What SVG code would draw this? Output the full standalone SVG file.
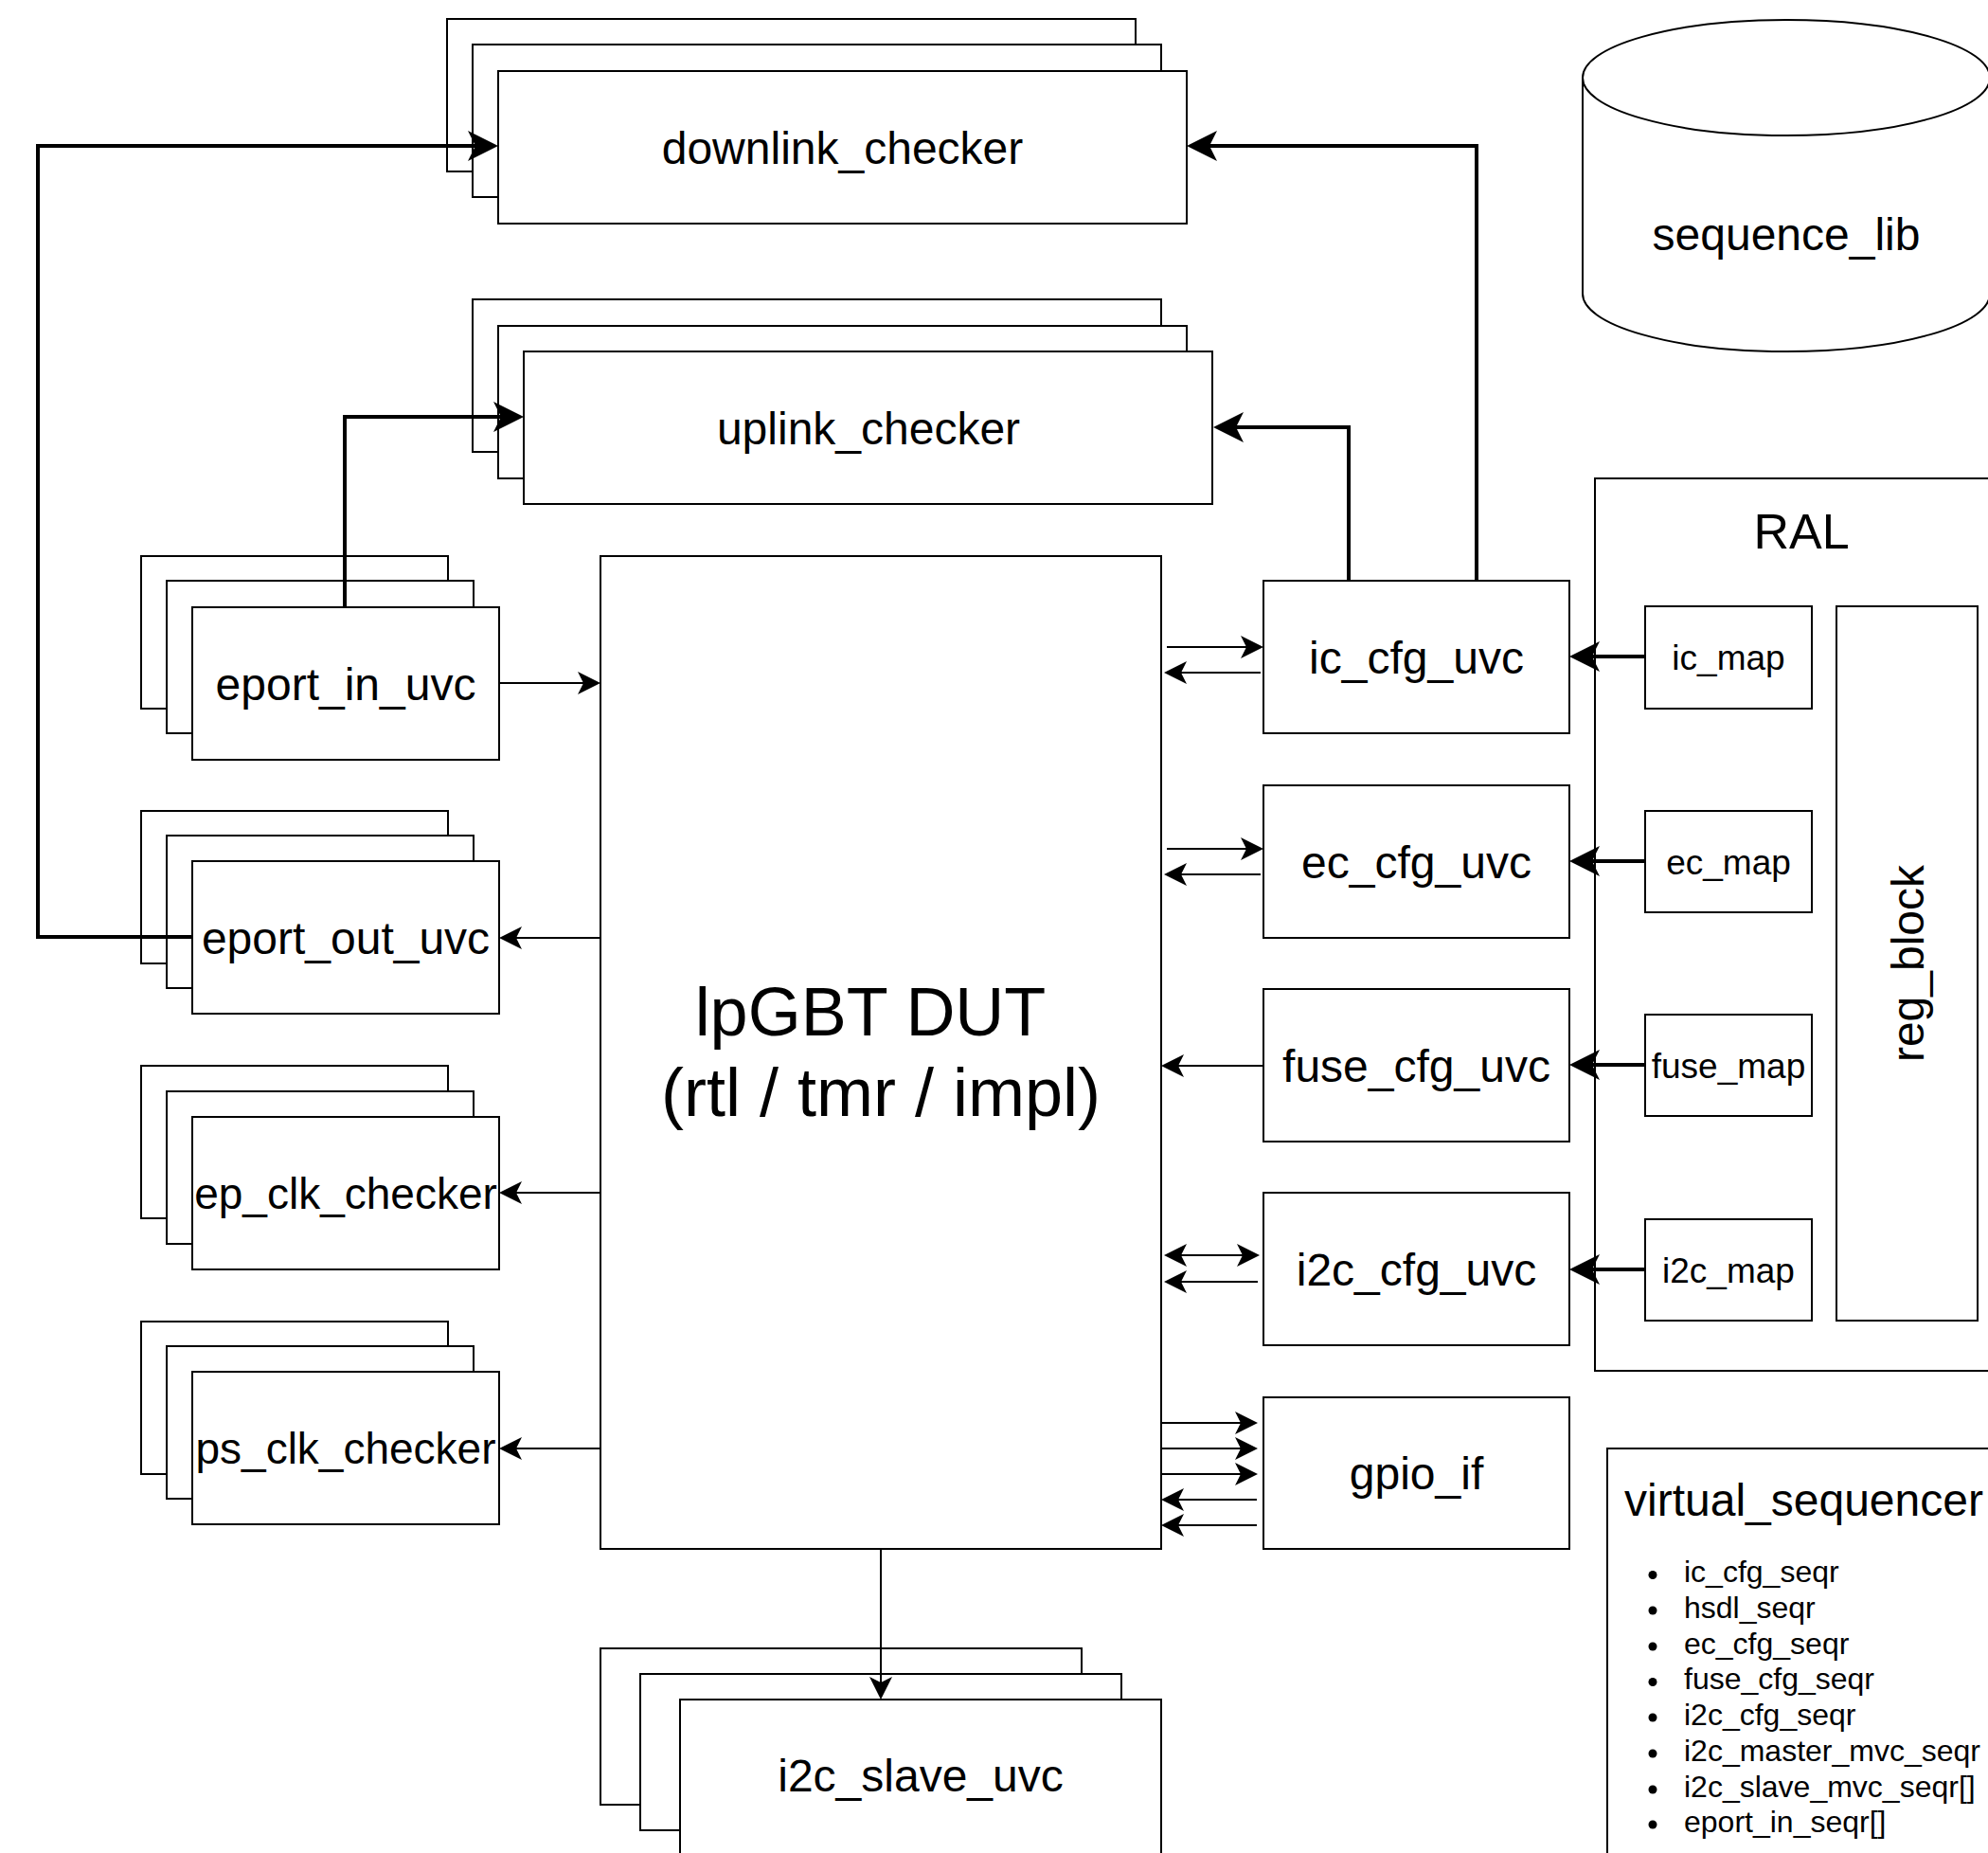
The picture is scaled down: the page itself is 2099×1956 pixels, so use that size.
<svg xmlns="http://www.w3.org/2000/svg" width="2099" height="1956" viewBox="0 0 2099 1956">
<style>
rect, .shape { fill: #fff; stroke: #000; stroke-width: 2; }
text { font-family: "Liberation Sans", Arial, sans-serif; fill: #000; }
.lbl { font-size: 48px; text-anchor: middle; }
.map { font-size: 37px; text-anchor: middle; }
.li { font-size: 32px; }
.thick { fill: none; stroke: #000; stroke-width: 4; marker-end: url(#ah); }
.thin { fill: none; stroke: #000; stroke-width: 2; marker-end: url(#a); }
</style>
<defs>
<marker id="a" markerUnits="userSpaceOnUse" viewBox="0 0 24 24" markerWidth="24" markerHeight="24" refX="6" refY="12" orient="auto-start-reverse"><path d="M0,0 L24,12 L0,24 L6,12 Z" fill="#000"/></marker>
<marker id="ah" markerUnits="userSpaceOnUse" viewBox="0 0 32 32" markerWidth="32" markerHeight="32" refX="8" refY="16" orient="auto"><path d="M0,0 L32,16 L0,32 L8,16 Z" fill="#000"/></marker>
</defs>
<rect x="0" y="0" width="2099" height="1956" style="fill:#fff;stroke:none"/>

<g id="downlink_checker">
<rect x="472" y="20" width="727" height="161"/>
<rect x="499" y="47" width="727" height="161"/>
<rect x="526" y="75" width="727" height="161"/>
<text class="lbl" x="889.5" y="173">downlink_checker</text>
</g>
<g id="uplink_checker">
<rect x="499" y="316" width="727" height="161"/>
<rect x="526" y="344" width="727" height="161"/>
<rect x="553" y="371" width="727" height="161"/>
<text class="lbl" x="917" y="469">uplink_checker</text>
</g>
<g id="eport_in_uvc">
<rect x="149" y="587" width="324" height="161"/>
<rect x="176" y="613" width="324" height="161"/>
<rect x="203" y="641" width="324" height="161"/>
<text class="lbl" x="365" y="738.5">eport_in_uvc</text>
</g>
<g id="eport_out_uvc">
<rect x="149" y="856" width="324" height="161"/>
<rect x="176" y="882" width="324" height="161"/>
<rect x="203" y="909" width="324" height="161"/>
<text class="lbl" x="365" y="1007">eport_out_uvc</text>
</g>
<g id="ep_clk_checker">
<rect x="149" y="1125" width="324" height="161"/>
<rect x="176" y="1152" width="324" height="161"/>
<rect x="203" y="1179" width="324" height="161"/>
<text class="lbl" x="365" y="1276" style="font-size:46px">ep_clk_checker</text>
</g>
<g id="ps_clk_checker">
<rect x="149" y="1395" width="324" height="161"/>
<rect x="176" y="1421" width="324" height="161"/>
<rect x="203" y="1448" width="324" height="161"/>
<text class="lbl" x="365" y="1545" style="font-size:46px">ps_clk_checker</text>
</g>
<g id="dut">
<rect x="634" y="587" width="592" height="1048"/>
<text class="lbl" x="919" y="1093" style="font-size:72px">lpGBT DUT</text>
<text class="lbl" x="930" y="1178" style="font-size:72px">(rtl / tmr / impl)</text>
</g>
<g id="i2c_slave_uvc">
<rect x="634" y="1740" width="508" height="165"/>
<rect x="676" y="1767" width="508" height="165"/>
<rect x="718" y="1794" width="508" height="165"/>
<text class="lbl" x="972" y="1891">i2c_slave_uvc</text>
</g>
<g id="ic_cfg_uvc">
<rect x="1334" y="613" width="323" height="161"/>
<text class="lbl" x="1495.5" y="710.5">ic_cfg_uvc</text>
</g>
<g id="ec_cfg_uvc">
<rect x="1334" y="829" width="323" height="161"/>
<text class="lbl" x="1495.5" y="926.5">ec_cfg_uvc</text>
</g>
<g id="fuse_cfg_uvc">
<rect x="1334" y="1044" width="323" height="161"/>
<text class="lbl" x="1495.5" y="1141.5">fuse_cfg_uvc</text>
</g>
<g id="i2c_cfg_uvc">
<rect x="1334" y="1259" width="323" height="161"/>
<text class="lbl" x="1495.5" y="1356.5">i2c_cfg_uvc</text>
</g>
<g id="gpio_if">
<rect x="1334" y="1475" width="323" height="160"/>
<text class="lbl" x="1495.5" y="1572">gpio_if</text>
</g>
<g id="sequence_lib">
<path class="shape" d="M1671,82 A215,61 0 0 1 2101,82 L2101,310 A215,61 0 0 1 1671,310 Z"/>
<path class="shape" d="M1671,82 A215,61 0 0 0 2101,82" style="fill:none"/>
<text class="lbl" x="1886" y="264">sequence_lib</text>
</g>
<g id="ral">
<rect x="1684" y="505" width="440" height="942"/>
<text class="lbl" x="1902" y="579" style="font-size:52px">RAL</text>
</g>
<g id="ic_map">
<rect x="1737" y="640" width="176" height="108"/>
<text class="map" x="1825" y="707">ic_map</text>
</g>
<g id="ec_map">
<rect x="1737" y="856" width="176" height="107"/>
<text class="map" x="1825" y="922.5">ec_map</text>
</g>
<g id="fuse_map">
<rect x="1737" y="1071" width="176" height="107"/>
<text class="map" x="1825" y="1137.5">fuse_map</text>
</g>
<g id="i2c_map">
<rect x="1737" y="1287" width="176" height="107"/>
<text class="map" x="1825" y="1353.5">i2c_map</text>
</g>
<g id="reg_block">
<rect x="1939" y="640" width="149" height="754"/>
<text class="lbl" x="2014" y="1034" transform="rotate(-90 2014 1017)">reg_block</text>
</g>
<g id="virtual_sequencer">
<rect x="1697" y="1529" width="430" height="460"/>
<text x="1715" y="1600" style="font-size:48px">virtual_sequencer</text>
<g fill="#000">
<circle cx="1745" cy="1662.5" r="4.5"/>
<circle cx="1745" cy="1700" r="4.5"/>
<circle cx="1745" cy="1738" r="4.5"/>
<circle cx="1745" cy="1775.5" r="4.5"/>
<circle cx="1745" cy="1813" r="4.5"/>
<circle cx="1745" cy="1851" r="4.5"/>
<circle cx="1745" cy="1889" r="4.5"/>
<circle cx="1745" cy="1926" r="4.5"/>
</g>
<text class="li" x="1778" y="1670">ic_cfg_seqr</text>
<text class="li" x="1778" y="1707.5">hsdl_seqr</text>
<text class="li" x="1778" y="1745.5">ec_cfg_seqr</text>
<text class="li" x="1778" y="1783">fuse_cfg_seqr</text>
<text class="li" x="1778" y="1820.5">i2c_cfg_seqr</text>
<text class="li" x="1778" y="1858.5">i2c_master_mvc_seqr</text>
<text class="li" x="1778" y="1896.5">i2c_slave_mvc_seqr[]</text>
<text class="li" x="1778" y="1933.5">eport_in_seqr[]</text>
</g>

<g id="connectors">
<path class="thick" d="M203,989 H40 V154 H502"/>
<path class="thick" d="M364,641 V440 H529"/>
<path class="thick" d="M1424,613 V451 H1305"/>
<path class="thick" d="M1559,613 V154 H1277"/>
<path class="thick" d="M1737,693 H1681"/>
<path class="thick" d="M1737,909 H1681"/>
<path class="thick" d="M1737,1124 H1681"/>
<path class="thick" d="M1737,1340 H1681"/>
<path class="thin" d="M527,721 H616"/>
<path class="thin" d="M634,990 H545"/>
<path class="thin" d="M634,1259 H545"/>
<path class="thin" d="M634,1529 H545"/>
<path class="thin" d="M930,1635 V1776"/>
<path class="thin" d="M1232,683 H1316"/>
<path class="thin" d="M1331,710 H1247"/>
<path class="thin" d="M1232,896 H1316"/>
<path class="thin" d="M1331,923 H1247"/>
<path class="thin" d="M1334,1125 H1244"/>
<path class="thin" d="M1247,1325 H1312" style="marker-start:url(#a)"/>
<path class="thin" d="M1328,1353 H1247"/>
<path class="thin" d="M1226,1502 H1310"/>
<path class="thin" d="M1226,1529 H1310"/>
<path class="thin" d="M1226,1556 H1310"/>
<path class="thin" d="M1327,1583 H1244"/>
<path class="thin" d="M1327,1610 H1244"/>
</g>
</svg>
